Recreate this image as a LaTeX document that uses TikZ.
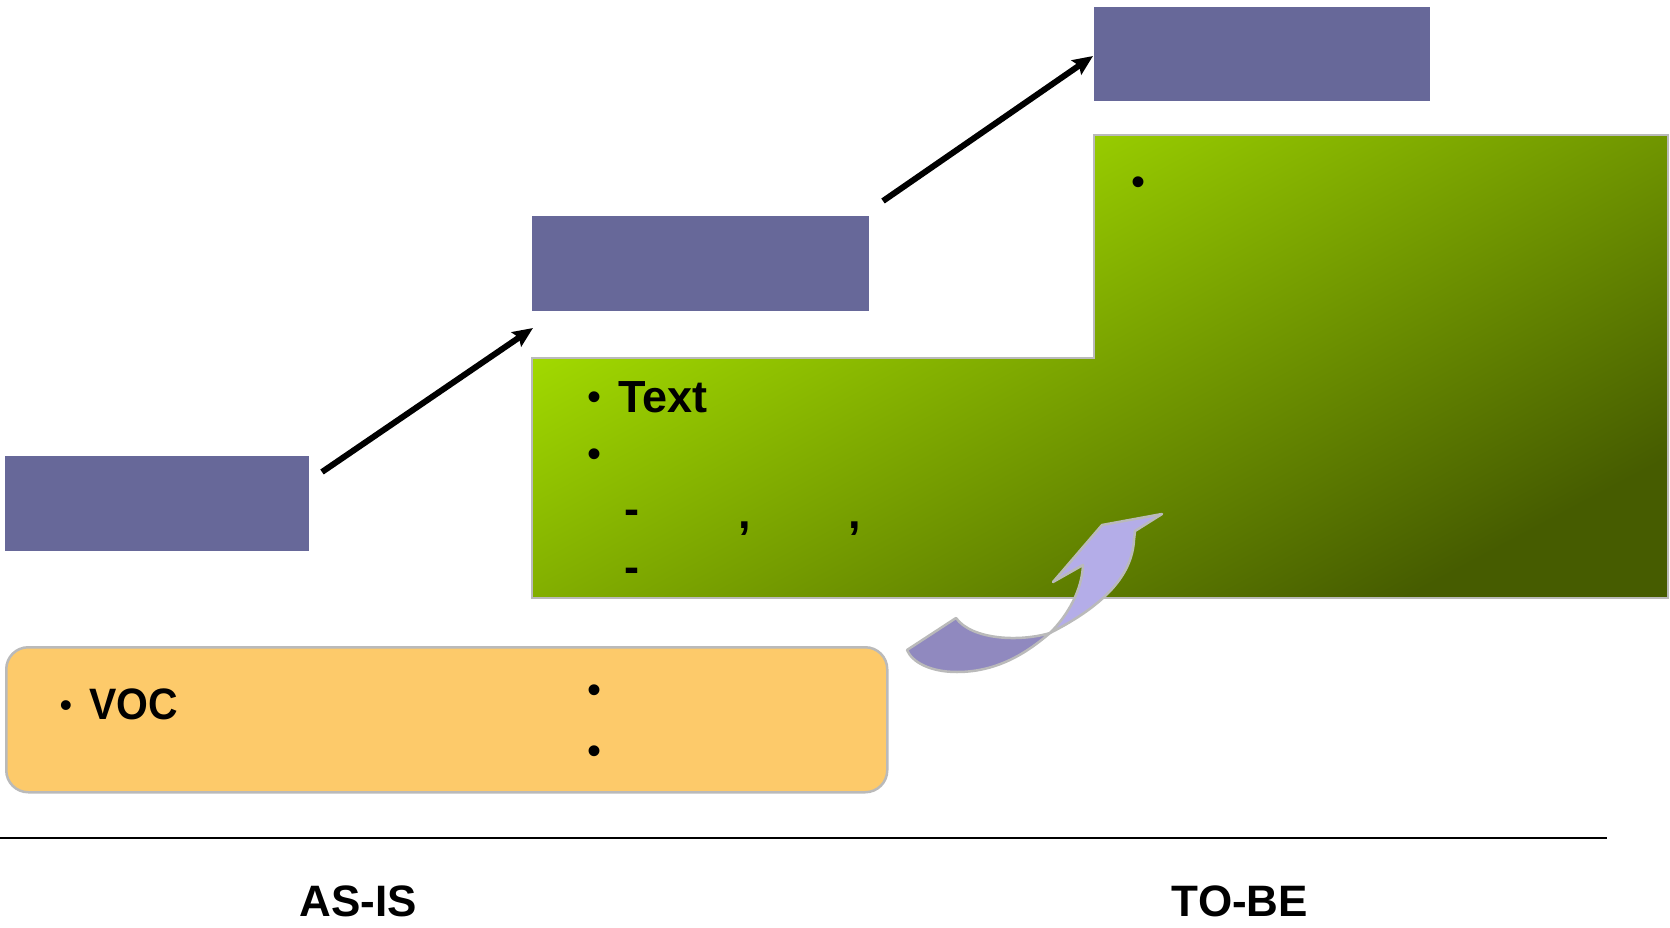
\documentclass[tikz,border=0pt]{standalone}
\usepackage{fontspec}
\setmainfont{Liberation Sans}
\usetikzlibrary{arrows.meta}
\definecolor{boxblue}{RGB}{103,104,153}
\definecolor{greenlight}{RGB}{172,232,0}
\definecolor{greendark}{RGB}{70,92,0}
\definecolor{orangefill}{RGB}{253,202,106}
\definecolor{edgegray}{RGB}{186,186,186}
\definecolor{lavdark}{RGB}{144,137,191}
\definecolor{lavlight}{RGB}{180,173,232}
\tikzset{
  x=1pt, y=-1pt,
  bluebox/.style={fill=boxblue, draw=none, inner sep=0pt, anchor=north west},
  bul/.style={inner sep=0pt, font=\fontsize{40}{46}\selectfont},
  bigtxt/.style={inner sep=0pt, font=\fontsize{45}{54}\selectfont\bfseries},
  labtxt/.style={inner sep=0pt, font=\fontsize{44}{52}\selectfont\bfseries},
  stepline/.style={line width=6pt, -{Stealth[length=20pt,width=17pt,inset=3pt]}},
  ribbon/.style={draw=edgegray, line width=2.5pt, line join=round},
}
\begin{document}
\begin{tikzpicture}
\useasboundingbox (0,0) rectangle (1670,928);
% blue step boxes
\node[bluebox, minimum width=304pt, minimum height=95pt] (b1) at (5,456) {};
\node[bluebox, minimum width=337pt, minimum height=95pt] (b2) at (532,216) {};
\node[bluebox, minimum width=336pt, minimum height=94pt] (b3) at (1094,7) {};
% green stepped area
\shade[top color=greenlight, bottom color=greendark, shading angle=28]
  (532,358) -- (1094,358) -- (1094,135) -- (1668,135) -- (1668,598) -- (532,598) -- cycle;
\draw[edgegray, line width=2.5pt]
  (532,358) -- (1094,358) -- (1094,135) -- (1668,135) -- (1668,598) -- (532,598) -- cycle;
% orange box
\node[fill=orangefill, draw=edgegray, line width=2.5pt, rounded corners=22pt,
      minimum width=881pt, minimum height=145pt, anchor=north west, inner sep=0pt] (voc) at (5,646) {};
% step arrows
\coordinate (a1s) at (322,472);
\coordinate (a1e) at (533,328);
\coordinate (a2s) at (883,201);
\coordinate (a2e) at (1093,56);
\draw[stepline] (a1s) -- (a1e);
\draw[stepline] (a2s) -- (a2e);
% curved ribbon arrow
\fill[lavdark] (907,650) -- (956,618) .. controls (972,640) and (1020,642) .. (1050,633)
  .. controls (1030,650) and (1000,672) .. (957,672) .. controls (930,672) and (912,662) .. (907,650) -- cycle;
\draw[ribbon] (907,650) -- (956,618) .. controls (972,640) and (1020,642) .. (1050,633)
  .. controls (1030,650) and (1000,672) .. (957,672) .. controls (930,672) and (912,662) .. (907,650) -- cycle;
\fill[lavlight] (1050,633) .. controls (1068,615) and (1082,590) .. (1083,565) -- (1053,582) -- (1102,525)
  -- (1162,514) -- (1135,531) -- (1134,540) .. controls (1132,575) and (1105,605) .. (1050,633) -- cycle;
\draw[ribbon] (1050,633) .. controls (1068,615) and (1082,590) .. (1083,565) -- (1053,582) -- (1102,525)
  -- (1162,514) -- (1135,531) -- (1134,540) .. controls (1132,575) and (1105,605) .. (1050,633) -- cycle;
% texts in green area
\node[bul] (g1) at (594,401) {•};
\node[bigtxt, anchor=base west] (gt) at (618,412) {Text};
\node[bul] (g2) at (594,458) {•};
\node[bigtxt] (d1) at (632,517) {-};
\node[bigtxt] (c1) at (745,529) {,};
\node[bigtxt] (c2) at (855,529) {,};
\node[bigtxt] (d2) at (632,575) {-};
\node[bul] (g3) at (1138,186) {•};
% texts in orange box
\node[inner sep=0pt, font=\fontsize{36}{40}\selectfont] (o1) at (66,709) {•};
\node[labtxt, anchor=base west, xscale=0.93] (vt) at (89,719) {VOC};
\node[bul] (o2) at (594,694) {•};
\node[bul] (o3) at (594,755) {•};
% baseline and labels
\coordinate (l1) at (0,838);
\coordinate (l2) at (1607,838);
\draw[line width=2pt] (l1) -- (l2);
\node[labtxt] (asis) at (358,901) {AS-IS};
\node[labtxt] (tobe) at (1240,901) {TO-BE};
\end{tikzpicture}
\end{document}
